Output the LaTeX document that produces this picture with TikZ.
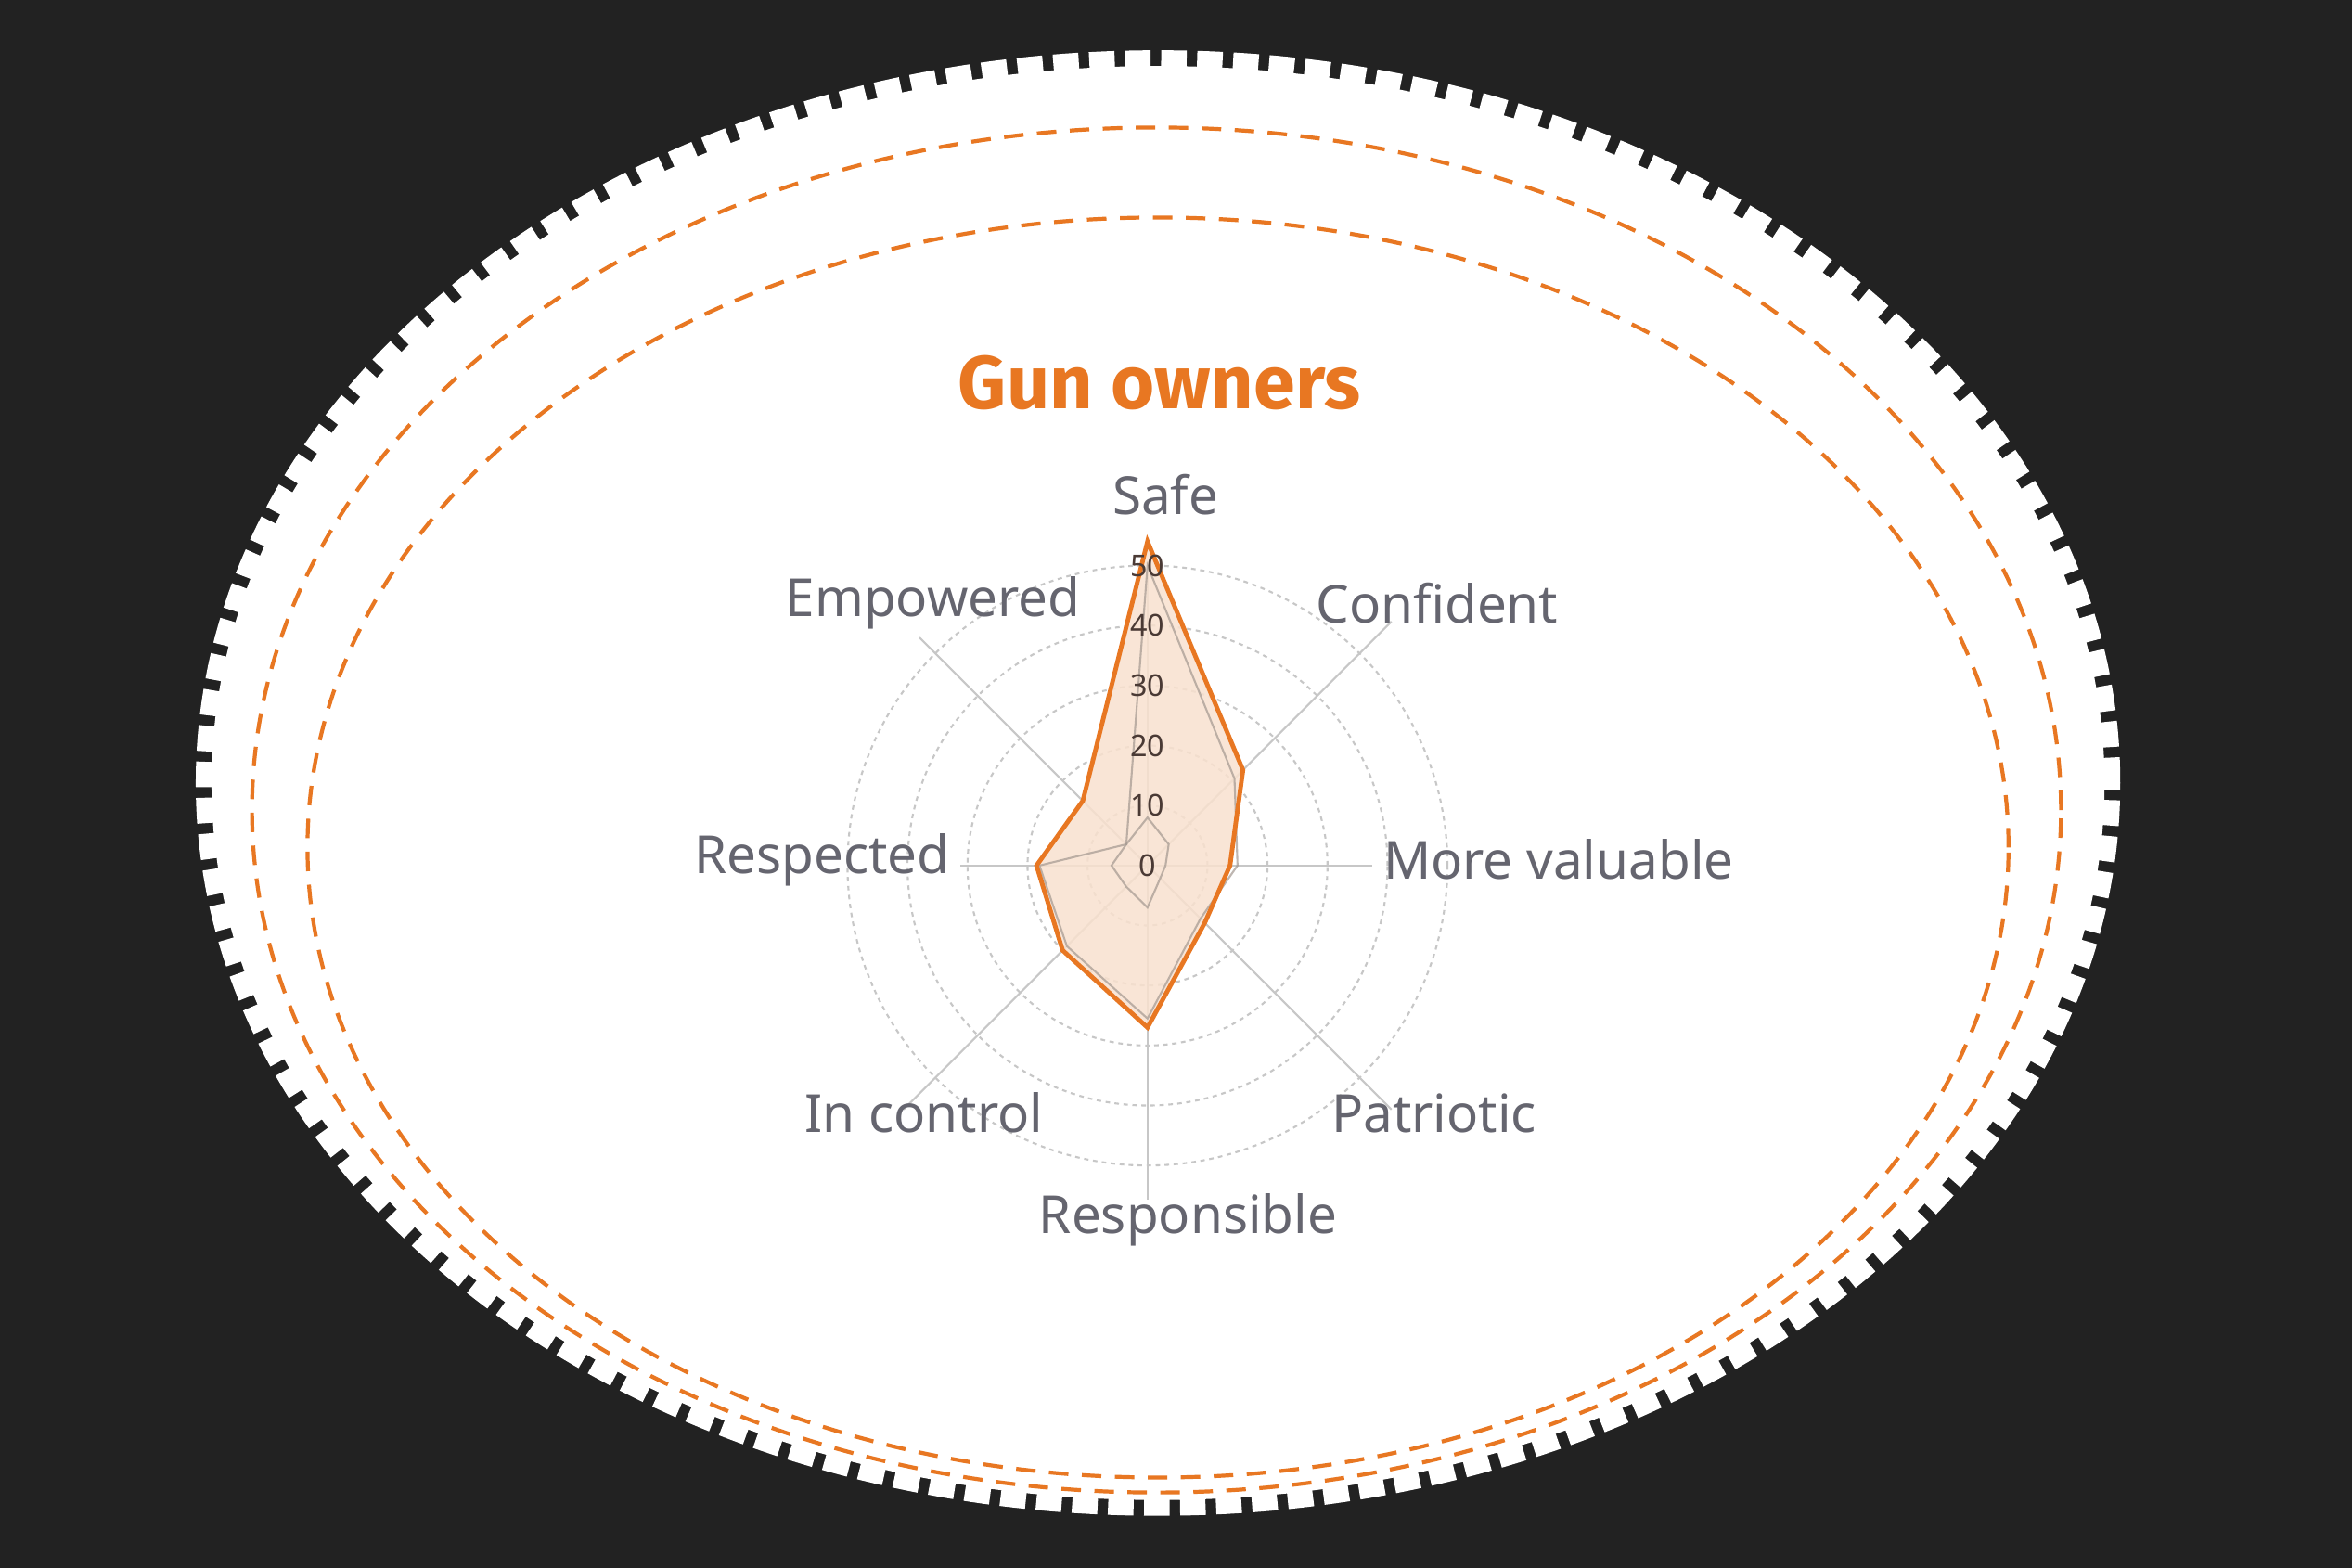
\documentclass[tikz,border=0pt]{standalone}
\usepackage{fontspec}
\setmainfont{Noto Sans}
\newfontfamily\titlefont{Fira Sans}
\begin{document}
\begin{tikzpicture}[x=1pt,y=-1pt,
  ring/.style={draw=black!22,line width=1.3pt,dash pattern=on 3pt off 3pt},
  spoke/.style={draw=black!22,line width=1.3pt},
  lab/.style={font=\fontsize{35}{40}\selectfont\bfseries,text=labgrey,inner sep=0},
  val/.style={font=\fontsize{20}{22}\selectfont,text=valbrown,inner sep=0},
  odash/.style={draw=orangec,line width=2.6pt,dash pattern=on 13pt off 9pt}]
\definecolor{bg}{HTML}{222222}
\definecolor{orangec}{HTML}{E87722}
\definecolor{labgrey}{HTML}{65656F}
\definecolor{valbrown}{HTML}{4A3A35}
\definecolor{peach}{HTML}{F9E1CF}
\useasboundingbox (0,0) rectangle (1568,1045.3);
\fill[bg] (0,0) rectangle (1568,1045.3);
\fill[white] (772,522) ellipse [x radius=631pt,y radius=478pt];
\draw[white,line width=11pt,dash pattern=on 17pt off 7pt] (772,522) ellipse [x radius=636pt,y radius=483pt];
\draw[odash] (771,540) ellipse [x radius=603pt,y radius=455pt];
\draw[odash] (772,565) ellipse [x radius=567pt,y radius=420pt];
\node[font=\titlefont\fontsize{50}{56}\selectfont\bfseries,text=orangec] (title) at (773,255) {Gun owners};
\begin{scope}[shift={(765,577)},x=1pt,y=1pt]
  \coordinate (C) at (0,0);
  \foreach \r in {40,80,120,160,200} \draw[ring] (C) circle (\r pt);
  \coordinate (eS) at (90:200);
  \coordinate (eC) at (45:230);
  \coordinate (eM) at (0:150);
  \coordinate (eP) at (-45:230);
  \coordinate (eR) at (-90:223);
  \coordinate (eI) at (-135:230);
  \coordinate (eRe) at (180:125);
  \coordinate (eE) at (135:215);
  \foreach \e in {eS,eC,eM,eP,eR,eI,eRe,eE} \draw[spoke] (C) -- (\e);
  \fill[peach,opacity=0.85] (90:216) -- (45:90) -- (0:55) -- (-45:54) -- (-90:108) -- (-135:80) -- (180:74) -- (135:61) -- cycle;
  \draw[draw=black!25!peach!60!gray,line width=1.3pt,opacity=0.7] (90:200) -- (45:82) -- (0:60) -- (-45:50) -- (-90:102) -- (-135:76) -- (180:72) -- (135:20) -- cycle;
  \draw[draw=black!25!peach!60!gray,line width=1.3pt,opacity=0.7] (90:32) -- (45:20) -- (0:12) -- (-45:12) -- (-90:28) -- (-135:20) -- (180:24) -- (135:20) -- cycle;
  \draw[orangec,line width=3pt,line join=miter] (90:216) -- (45:90) -- (0:55) -- (-45:54) -- (-90:108) -- (-135:80) -- (180:74) -- (135:61) -- cycle;
  \foreach \v/\n in {0/v0,10/v1,20/v2,30/v3,40/v4,50/v5} \node[val] (\n) at (0,4*\v) {\v};
\end{scope}
\node[lab] (lS) at (777,330) {Safe};
\node[lab] (lE) at (622,402) {Empowered};
\node[lab] (lC) at (958,402) {Confident};
\node[lab] (lM) at (1039,573) {More valuable};
\node[lab] (lRe) at (548,573) {Respected};
\node[lab] (lP) at (956,742) {Patriotic};
\node[lab] (lI) at (616,742) {In control};
\node[lab] (lR) at (792,813) {Responsible};
\end{tikzpicture}
\end{document}
